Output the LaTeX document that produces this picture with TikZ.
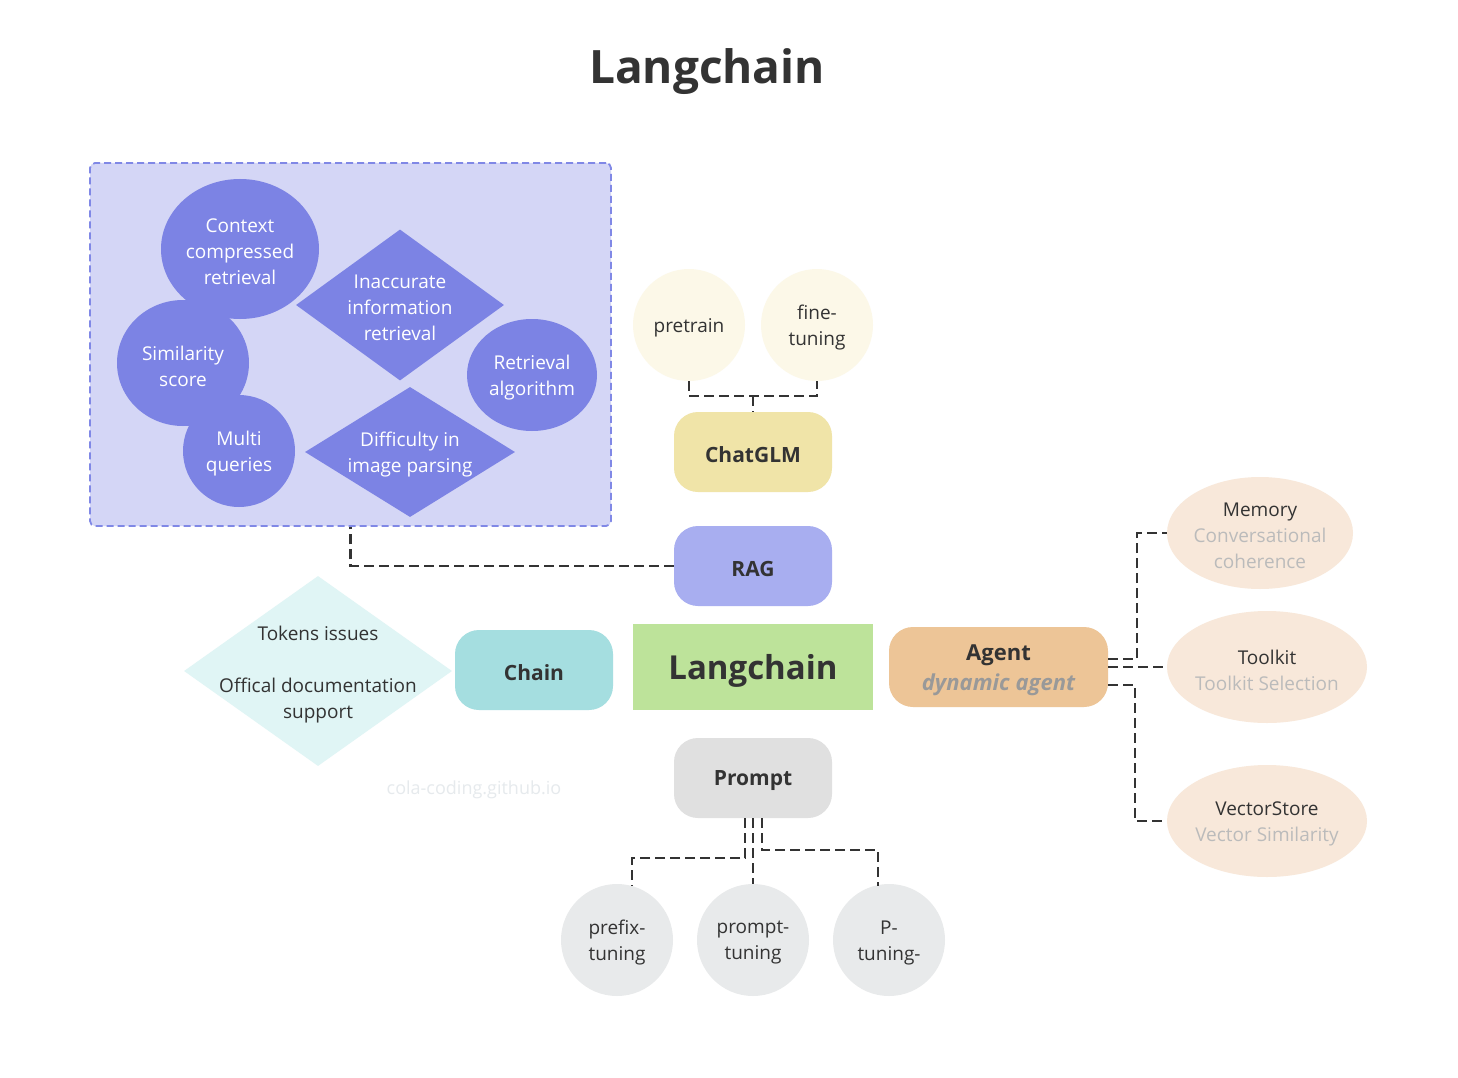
\documentclass[tikz,border=0pt]{standalone}
\usepackage{fontspec}
\setmainfont{Open Sans}
\usetikzlibrary{shapes.geometric}
\definecolor{ink}{HTML}{333333}
\definecolor{ragbox}{HTML}{D4D6F6}
\definecolor{ragedge}{HTML}{8088E6}
\definecolor{ragfill}{HTML}{7C83E4}
\definecolor{creamfill}{HTML}{FCF8E8}
\definecolor{glmfill}{HTML}{F0E4A8}
\definecolor{ragnode}{HTML}{A8AEF0}
\definecolor{langfill}{HTML}{BDE39A}
\definecolor{chainfill}{HTML}{A5DEE0}
\definecolor{agentfill}{HTML}{EDC597}
\definecolor{promptfill}{HTML}{E0E0E0}
\definecolor{tokfill}{HTML}{E0F5F5}
\definecolor{peach}{HTML}{F8E8DA}
\definecolor{greyc}{HTML}{E8EAEB}
\definecolor{subgrey}{HTML}{BBBBBB}
\definecolor{agentsub}{HTML}{999999}
\definecolor{wm}{HTML}{E6EAED}
\tikzset{
  conn/.style={draw=ink, line width=2.5pt, dash pattern=on 10pt off 5pt},
  pill/.style={draw=none, rounded corners=24pt, minimum width=158pt, minimum height=80pt, font=\fontsize{21}{24}\selectfont\bfseries, text=ink, align=center},
  bluecirc/.style={ellipse, fill=ragfill, draw=none, text=white, align=center, font=\fontsize{19}{26}\selectfont, inner sep=0pt},
  smallcirc/.style={circle, minimum size=112pt, inner sep=0pt, align=center, text=ink, font=\fontsize{19}{26}\selectfont},
  peachell/.style={ellipse, fill=peach, inner sep=0pt, align=center, text=ink, font=\fontsize{19}{26}\selectfont},
  lbl/.style={align=center, font=\fontsize{19}{26}\selectfont},
}
\begin{document}
\begin{tikzpicture}[x=1pt,y=-1pt]
\useasboundingbox (0,0) rectangle (1458,1078);
\fill[white] (0,0) rectangle (1458,1078);
% title
\node[font=\fontsize{46}{50}\selectfont\bfseries, text=ink] (title) at (707,72) {Langchain};
% RAG group
\node[draw=ragedge, fill=ragbox, line width=1.8pt, dash pattern=on 7pt off 4pt, rounded corners=5pt, minimum width=521pt, minimum height=363pt, inner sep=0pt] (ragbox) at (350.5,344.5) {};
\node[ellipse, fill=ragfill, minimum width=158pt, minimum height=140pt] (ctx) at (240,249) {};
\node[lbl, text=white] (ctxt) at (240,252) {Context\\compressed\\retrieval};
\node[ellipse, fill=ragfill, minimum width=132pt, minimum height=126pt] (sim) at (183,363) {};
\node[lbl, text=white] (simt) at (183,366) {Similarity\\score};
\node[ellipse, fill=ragfill, minimum width=112pt, minimum height=112pt] (multi) at (239,451) {};
\node[lbl, text=white] (multit) at (239,454) {Multi\\queries};
\node[ellipse, fill=ragfill, minimum width=130pt, minimum height=112pt] (ralg) at (532,375) {};
\node[lbl, text=white] (ralgt) at (532,378) {Retrieval\\algorithm};
\node[diamond, fill=ragfill, minimum width=208pt, minimum height=151pt, inner sep=0pt] (inacc) at (400,305) {};
\node[lbl, text=white] (inacct) at (400,308) {Inaccurate\\information\\retrieval};
\node[diamond, fill=ragfill, minimum width=210pt, minimum height=130pt, inner sep=0pt] (diff) at (410,452) {};
\node[lbl, text=white] (difft) at (410,455) {Difficulty in\\image parsing};
% ChatGLM branch
\node[circle, fill=creamfill, minimum size=112pt] (pre) at (689,325) {};
\node[lbl, text=ink] (pret) at (689,328) {pretrain};
\node[circle, fill=creamfill, minimum size=112pt] (fine) at (817,325) {};
\node[lbl, text=ink] (finet) at (817,328) {fine-\\tuning};
\node[pill, fill=glmfill] (glm) at (753,452) {};
\node[font=\fontsize{21}{24}\selectfont\bfseries, text=ink] (glmt) at (753,455) {ChatGLM};
\coordinate (glmj) at (753,396);
\draw[conn] (pre.south) |- (glmj) -| (fine.south);
\draw[conn] (glmj) -- (glm.north);
% RAG
\node[pill, fill=ragnode] (rag) at (753,566) {};
\node[font=\fontsize{21}{24}\selectfont\bfseries, text=ink] (ragt) at (753,569) {RAG};
\draw[conn] (rag.west) -| (ragbox.south);
% center
\node[fill=langfill, minimum width=240pt, minimum height=86pt, inner sep=0pt] (lang) at (753,667) {};
\node[font=\fontsize{33}{36}\selectfont\bfseries, text=ink] (langt) at (753,671) {Langchain};
\node[pill, fill=chainfill] (chain) at (534,670) {};
\node[font=\fontsize{21}{24}\selectfont\bfseries, text=ink] (chaint) at (534,673) {Chain};
\node[diamond, fill=tokfill, minimum width=268pt, minimum height=190pt, inner sep=0pt] (tok) at (318,671) {};
\node[lbl, text=ink] (tokt) at (318,675) {Tokens issues\\[26pt]Offical documentation\\support};
\node[text=wm, font=\fontsize{18}{20}\selectfont] (wmark) at (474,790) {cola-coding.github.io};
% Agent
\node[pill, fill=agentfill, minimum width=219pt] (agent) at (998.5,667) {};
\node[font=\fontsize{22}{30}\selectfont\bfseries, text=ink, align=center] (agentt) at (998.5,670) {Agent\\{\color{agentsub}\itshape dynamic agent}};
\node[ellipse, fill=peach, minimum width=186pt, minimum height=112pt] (mem) at (1260,533) {};
\node[lbl, text=ink] (memt) at (1260,536) {Memory\\{\color{subgrey}Conversational}\\{\color{subgrey}coherence}};
\node[ellipse, fill=peach, minimum width=200pt, minimum height=112pt] (tool) at (1267,667) {};
\node[lbl, text=ink] (toolt) at (1267,670) {Toolkit\\{\color{subgrey}Toolkit Selection}};
\node[ellipse, fill=peach, minimum width=200pt, minimum height=112pt] (vec) at (1267,821) {};
\node[lbl, text=ink] (vect) at (1267,824) {VectorStore\\{\color{subgrey}Vector Similarity}};
\coordinate (a1) at (1108,659);
\coordinate (a2) at (1108,667);
\coordinate (a3) at (1108,685);
\draw[conn] (a1) -- (1137,659) |- (mem.west);
\draw[conn] (a2) -- (tool.west);
\draw[conn] (a3) -- (1135,685) |- (vec.west);
% Prompt
\node[pill, fill=promptfill] (prompt) at (753,778) {};
\node[font=\fontsize{21}{24}\selectfont\bfseries, text=ink] (promptt) at (753,781) {Prompt};
\node[circle, fill=greyc, minimum size=112pt] (pfx) at (617,940) {};
\node[lbl, text=ink] (pfxt) at (617,943) {prefix-\\tuning};
\node[circle, fill=greyc, minimum size=112pt] (ppt) at (753,940) {};
\node[lbl, text=ink] (pptt) at (753,943) {prompt-\\tuning};
\node[circle, fill=greyc, minimum size=112pt] (ptn) at (889,940) {};
\node[lbl, text=ink] (ptnt) at (889,943) {P-\\tuning-};
\coordinate (p1) at (745,818);
\coordinate (p3) at (762,818);
\coordinate (pe1) at (632,886);
\coordinate (pe3) at (878,886);
\draw[conn] (p1) -- (745,858) -| (pe1);
\draw[conn] (prompt.south) -- (ppt.north);
\draw[conn] (p3) -- (762,850) -| (pe3);
\end{tikzpicture}
\end{document}
